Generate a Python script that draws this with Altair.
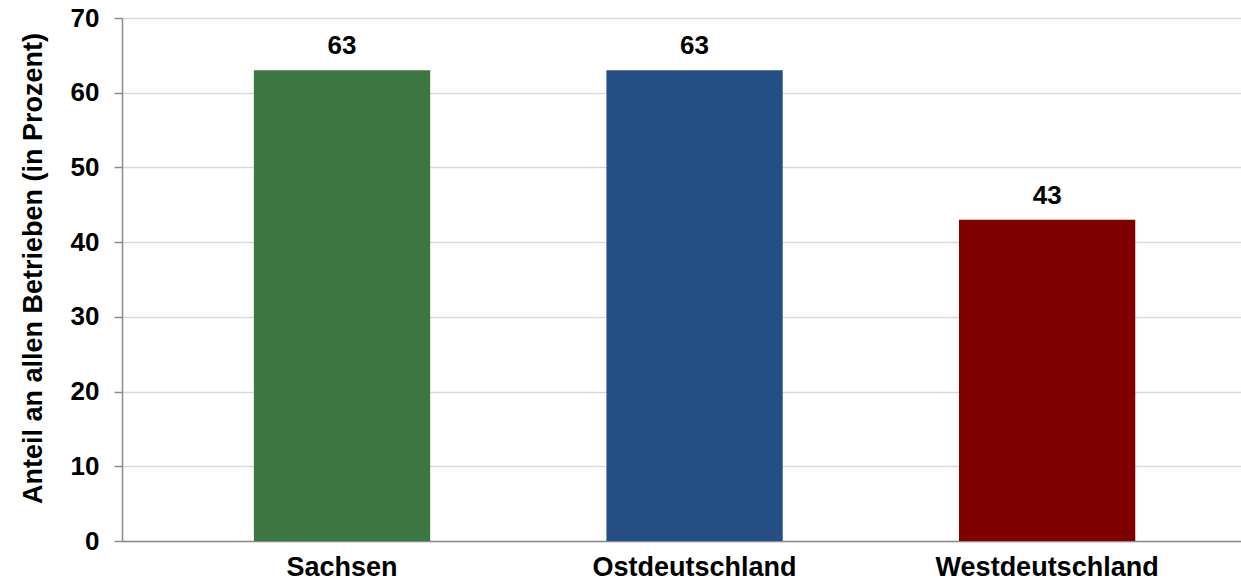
import altair as alt
import pandas as pd

# Share of establishments by region (percent)
regions = ["Sachsen", "Ostdeutschland", "Westdeutschland"]
shares = [63, 63, 43]
bar_colors = ["#3B7643", "#234F84", "#800000"]

df = pd.DataFrame({"Region": regions, "Anteil": shares})

FONT = "Liberation Sans"

x_enc = alt.X(
    "Region:N",
    sort=regions,
    title=None,
    scale=alt.Scale(paddingInner=0.5, paddingOuter=0.337, align=0.555),
    axis=alt.Axis(
        labelAngle=0,
        labelFont=FONT,
        labelFontSize=27,
        labelFontWeight="bold",
        labelColor="#000000",
        labelPadding=13,
        labelBaseline="top",
        labelLimit=0,
        ticks=False,
        domainColor="#8c8c8c",
        domainWidth=1.5,
        grid=False,
    ),
)

y_enc = alt.Y(
    "Anteil:Q",
    title="Anteil an allen Betrieben (in Prozent)",
    scale=alt.Scale(domain=[0, 70], nice=False),
    axis=alt.Axis(
        values=[0, 10, 20, 30, 40, 50, 60, 70],
        labelFont=FONT,
        labelFontSize=26,
        labelFontWeight="bold",
        labelColor="#000000",
        labelPadding=15,
        tickSize=8,
        tickColor="#8c8c8c",
        tickWidth=1.5,
        domainColor="#8c8c8c",
        domainWidth=1.5,
        gridColor="#d9d9d9",
        gridWidth=1.5,
        titleFont=FONT,
        titleFontSize=27,
        titleFontWeight="bold",
        titleColor="#000000",
        titleAngle=-90,
        titleBaseline="middle",
        titleAlign="center",
        titleX=-89,
        titleY=250,
    ),
)

color_enc = alt.Color(
    "Region:N",
    scale=alt.Scale(domain=regions, range=bar_colors),
    legend=None,
)

bars = alt.Chart(df).mark_bar().encode(x=x_enc, y=y_enc, color=color_enc)

labels = alt.Chart(df).mark_text(
    font=FONT,
    fontSize=26,
    fontWeight="bold",
    color="#000000",
    baseline="alphabetic",
    dy=-16,
).encode(
    x=alt.X("Region:N", sort=regions),
    y=alt.Y("Anteil:Q"),
    text=alt.Text("Anteil:Q"),
)

chart = (
    alt.layer(bars, labels)
    .properties(
        width=1119,
        height=523,
        autosize=alt.AutoSizeParams(type="none"),
        padding={"left": 122, "top": 18, "right": 0, "bottom": 40},
        background="#ffffff",
    )
    .configure_view(stroke=None)
)

chart.save("out.html", embed_options={"renderer": "svg", "actions": False})
